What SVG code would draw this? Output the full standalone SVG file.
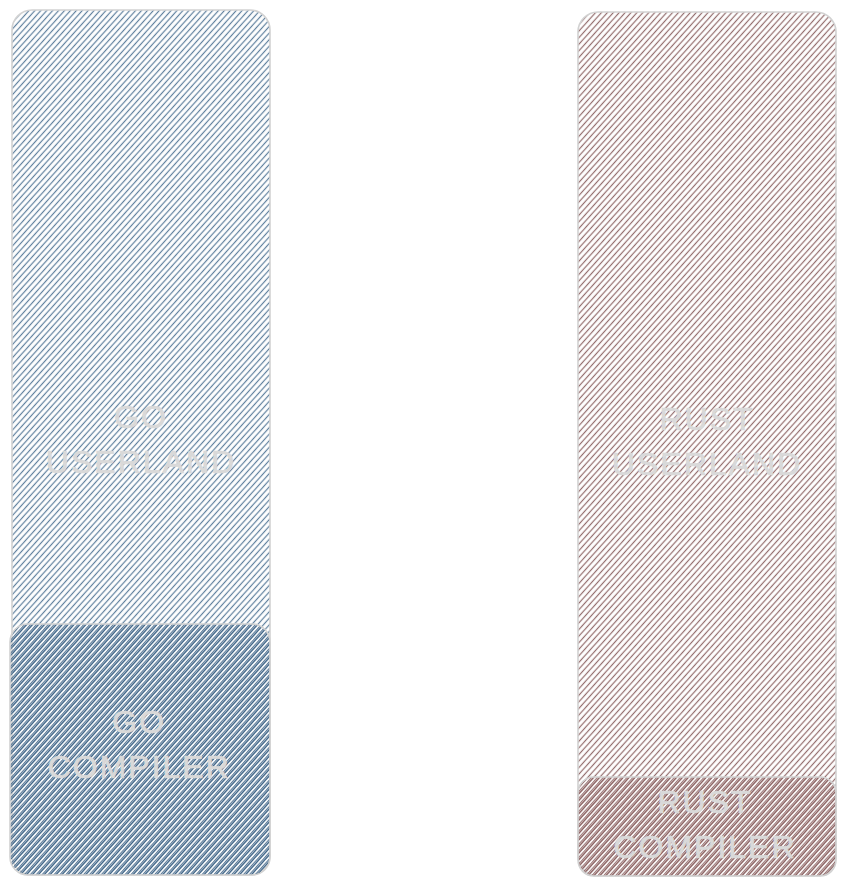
<svg xmlns="http://www.w3.org/2000/svg" width="845" height="887" viewBox="0 0 845 887">
<style>
.box{stroke:#d2d2d2;stroke-width:1.6}
.lbl{font-family:"Liberation Sans",Arial,sans-serif;font-size:32px;fill:#d9d9d9;stroke:#d9d9d9;stroke-width:0.7;letter-spacing:2px;text-anchor:middle}
</style>
<defs>
<pattern id="hGoU" width="4.4" height="4.4" patternUnits="userSpaceOnUse" patternTransform="rotate(-48)">
<rect width="4.4" height="4.4" fill="#ffffff"/>
<line x1="0" y1="2.2" x2="4.4" y2="2.2" stroke="#5f809e" stroke-width="1.2"/>
</pattern>
<pattern id="hGoC" width="4.4" height="4.4" patternUnits="userSpaceOnUse" patternTransform="rotate(-48)">
<line x1="0" y1="0.7" x2="4.4" y2="0.7" stroke="#3f6487" stroke-width="1.1"/>
<line x1="0" y1="2.2" x2="4.4" y2="2.2" stroke="#3f6487" stroke-width="0.8"/>
</pattern>
<pattern id="hRuU" width="4.4" height="4.4" patternUnits="userSpaceOnUse" patternTransform="rotate(-48)">
<rect width="4.4" height="4.4" fill="#ffffff"/>
<line x1="0" y1="2.2" x2="4.4" y2="2.2" stroke="#946d6d" stroke-width="1.2"/>
</pattern>
<pattern id="hRuC" width="4.4" height="4.4" patternUnits="userSpaceOnUse" patternTransform="rotate(-48)">
<line x1="0" y1="0.7" x2="4.4" y2="0.7" stroke="#8d6363" stroke-width="1.1"/>
<line x1="0" y1="2.2" x2="4.4" y2="2.2" stroke="#8d6363" stroke-width="0.8"/>
</pattern>
</defs>
<g id="go-userland">
<rect class="box" x="12" y="10" width="258" height="865" rx="20" fill="url(#hGoU)"/>
<text class="lbl" x="141" y="428">GO</text>
<text class="lbl" x="141" y="473">USERLAND</text>
</g>
<g id="go-compiler">
<rect class="box" x="10" y="624" width="260" height="251" rx="18" fill="url(#hGoC)"/>
<text class="lbl" x="139" y="733">GO</text>
<text class="lbl" x="139" y="778">COMPILER</text>
</g>
<g id="rust-userland">
<rect class="box" x="578" y="12" width="258" height="864" rx="20" fill="url(#hRuU)"/>
<text class="lbl" x="707" y="430">RUST</text>
<text class="lbl" x="707" y="475">USERLAND</text>
</g>
<g id="rust-compiler">
<rect class="box" x="578" y="777" width="258" height="99" rx="16" fill="url(#hRuC)"/>
<text class="lbl" x="705" y="813">RUST</text>
<text class="lbl" x="705" y="858">COMPILER</text>
</g>
<g id="connectors"></g>
</svg>
